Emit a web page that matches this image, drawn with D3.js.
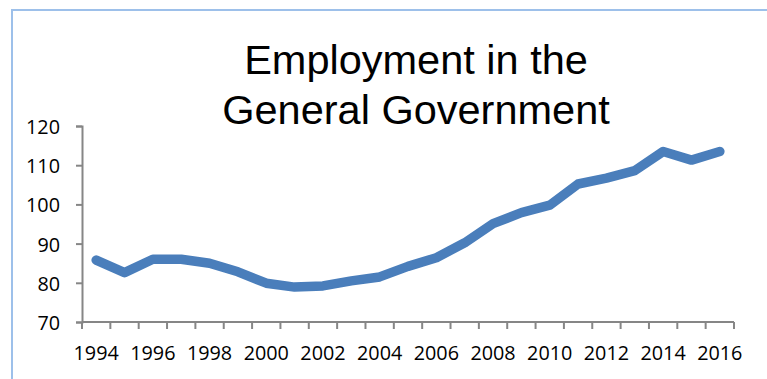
<!DOCTYPE html>
<html>
<head>
<meta charset="utf-8">
<script src="https://cdn.jsdelivr.net/npm/d3@7"></script>
<style>
  html, body { margin: 0; padding: 0; background: #fff; }
  svg { display: block; }
</style>
</head>
<body>
<svg id="chart" width="767" height="379"></svg>
<script>
// Employment in the general government, index values by year
const years = ["1994","1995","1996","1997","1998","1999","2000","2001","2002","2003","2004",
               "2005","2006","2007","2008","2009","2010","2011","2012","2013","2014","2015","2016"];
const employment = [85.8, 82.6, 86.0, 86.0, 85.0, 82.8, 79.9, 78.9, 79.2, 80.5, 81.5,
                    84.2, 86.4, 90.2, 95.1, 97.9, 99.8, 105.2, 106.7, 108.6, 113.5, 111.3, 113.5];
const yTicks = [70, 80, 90, 100, 110, 120];
const titleLines = ["Employment in the", "General Government"];

const svg = d3.select("#chart");
const plot = { left: 82, right: 734, top: 126, bottom: 322 };
const axisColor = "#868686";
const labelFont = "'Open Sans', sans-serif";
const labelSize = 19.8;

// chart area frame
svg.append("rect")
  .attr("x", 12).attr("y", 10)
  .attr("width", 800).attr("height", 400)
  .attr("fill", "none")
  .attr("stroke", "#9DC0EA")
  .attr("stroke-width", 2);

// title
svg.append("g")
  .selectAll("text")
  .data(titleLines)
  .join("text")
  .attr("x", 416)
  .attr("y", (d, i) => 74 + i * 50)
  .attr("text-anchor", "middle")
  .attr("font-family", "'Liberation Sans', Arial, sans-serif")
  .attr("font-size", 41.5)
  .attr("fill", "#000")
  .text(d => d);

const x = d3.scaleBand().domain(years).range([plot.left, plot.right]);
const y = d3.scaleLinear().domain([70, 120]).range([plot.bottom, plot.top]);

// y axis
const yAxis = svg.append("g")
  .attr("transform", `translate(${plot.left},0)`)
  .call(d3.axisLeft(y).tickValues(yTicks).tickSize(6).tickPadding(16));
yAxis.select(".domain").attr("stroke", axisColor).attr("stroke-width", 2);
yAxis.selectAll(".tick line").attr("stroke", axisColor).attr("stroke-width", 2);
yAxis.selectAll(".tick text")
  .attr("font-family", labelFont)
  .attr("font-size", labelSize)
  .attr("fill", "#000")
  .attr("dy", "0.38em");

// x axis: tick marks sit between categories, labels every other year
const xAxisG = svg.append("g").attr("transform", `translate(0,${plot.bottom})`);
xAxisG.append("line")
  .attr("x1", plot.left).attr("x2", plot.right)
  .attr("y1", 0).attr("y2", 0)
  .attr("stroke", axisColor).attr("stroke-width", 2);
const boundaries = years.map(d => x(d)).concat([x(years[years.length - 1]) + x.bandwidth()]);
xAxisG.selectAll("line.tick")
  .data(boundaries)
  .join("line")
  .attr("class", "tick")
  .attr("x1", d => d).attr("x2", d => d)
  .attr("y1", 0).attr("y2", 7)
  .attr("stroke", axisColor).attr("stroke-width", 2);
xAxisG.selectAll("text")
  .data(years.filter((d, i) => i % 2 === 0))
  .join("text")
  .attr("x", d => x(d) + x.bandwidth() / 2)
  .attr("y", 38)
  .attr("text-anchor", "middle")
  .attr("font-family", labelFont)
  .attr("font-size", labelSize)
  .attr("fill", "#000")
  .text(d => d);

// series line
const line = d3.line()
  .x((d, i) => x(years[i]) + x.bandwidth() / 2)
  .y(d => y(d));
svg.append("path")
  .datum(employment)
  .attr("d", line)
  .attr("fill", "none")
  .attr("stroke", "#4A7EBB")
  .attr("stroke-width", 9.5)
  .attr("stroke-linejoin", "round")
  .attr("stroke-linecap", "round");
</script>
</body>
</html>
